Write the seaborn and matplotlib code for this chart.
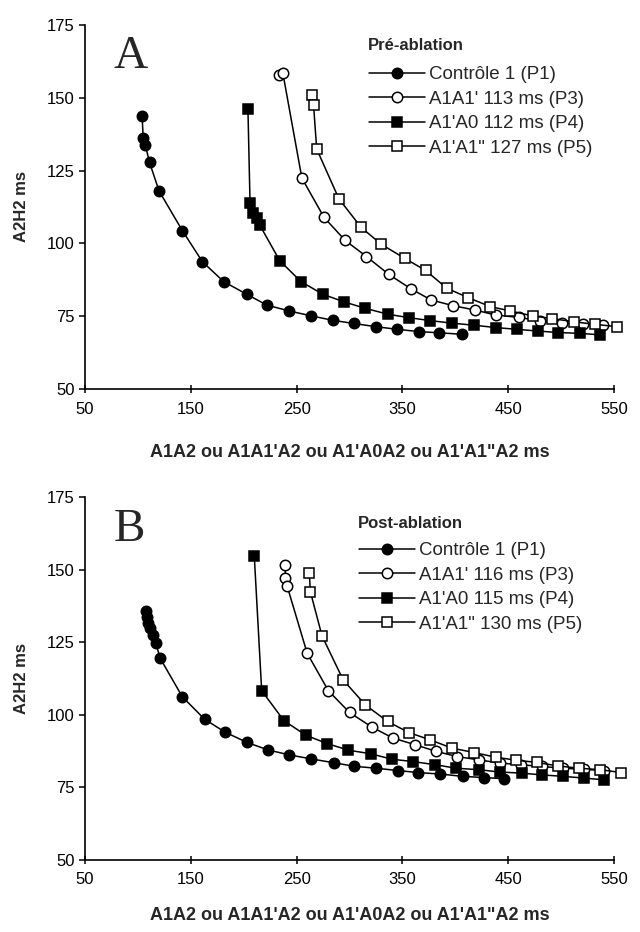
import matplotlib
matplotlib.use("Agg")
import matplotlib.pyplot as plt
import seaborn as sns

# Panel A (pre-ablation)
a_p1_x = [104, 105, 107, 111, 120, 142, 161, 181, 203, 222, 243, 264, 284, 304, 325, 345, 366, 385, 406]
a_p1_y = [143.6, 136.2, 133.8, 127.8, 118.0, 104.4, 93.7, 86.9, 82.5, 78.8, 76.8, 75.1, 73.6, 72.5, 71.4, 70.5, 69.7, 69.3, 68.8]
a_p3_x = [233, 237, 255, 276, 296, 316, 337, 358, 377, 398, 419, 438, 460, 480, 501, 521, 540]
a_p3_y = [157.9, 158.5, 122.4, 108.9, 101.0, 95.5, 89.4, 84.4, 80.6, 78.6, 77.1, 75.4, 74.6, 73.4, 72.6, 72.2, 72.0]
a_p4_x = [204, 206, 209, 213, 215, 234, 254, 275, 295, 315, 336, 356, 376, 397, 418, 438, 458, 478, 497, 518, 537]
a_p4_y = [146.1, 113.8, 110.4, 108.7, 106.4, 94.1, 86.9, 82.5, 79.9, 77.7, 75.7, 74.5, 73.5, 72.6, 71.9, 71.1, 70.5, 69.9, 69.4, 69.1, 68.6]
a_p5_x = [265, 266, 269, 290, 311, 330, 352, 372, 392, 412, 433, 452, 473, 491, 512, 532, 553]
a_p5_y = [151.0, 147.6, 132.4, 115.3, 105.5, 99.7, 94.9, 90.7, 84.6, 81.4, 78.3, 76.8, 75.1, 74.2, 73.1, 72.2, 71.4]
a_labels = ["Contrôle 1 (P1)", "A1A1' 113 ms (P3)", "A1'A0 112 ms (P4)", "A1'A1\" 127 ms (P5)"]

# Panel B (post-ablation)
b_p1_x = [108, 108.5, 110, 111, 114, 117, 121, 142, 163, 182, 203, 223, 243, 264, 285, 304, 325, 346, 365, 386, 407, 427, 446]
b_p1_y = [135.8, 133.8, 131.5, 129.8, 127.5, 124.6, 119.5, 106.2, 98.5, 94.1, 90.5, 87.9, 86.2, 84.8, 83.5, 82.3, 81.6, 80.8, 80.1, 79.6, 78.8, 78.4, 78.0]
b_p3_x = [239, 239.5, 241, 260, 280, 300, 321, 341, 362, 382, 402, 422, 442, 462, 482, 502, 522, 541]
b_p3_y = [151.6, 147.0, 144.4, 121.2, 108.3, 100.8, 95.8, 92.0, 89.7, 87.4, 85.6, 84.5, 83.4, 82.8, 82.2, 81.6, 81.2, 80.8]
b_p4_x = [210, 217, 238, 259, 279, 299, 320, 340, 360, 381, 401, 422, 442, 463, 482, 502, 522, 541]
b_p4_y = [154.7, 108.3, 98.0, 92.9, 90.1, 87.8, 86.6, 84.7, 83.9, 82.8, 81.6, 81.1, 80.3, 79.9, 79.3, 78.8, 78.2, 77.6]
b_p5_x = [262, 263, 274, 294, 315, 336, 356, 376, 397, 418, 438, 457, 477, 497, 517, 537, 557]
b_p5_y = [148.9, 142.4, 127.2, 112.0, 103.4, 97.7, 93.9, 91.4, 88.5, 87.0, 85.4, 84.4, 83.6, 82.4, 81.6, 81.1, 80.1]
b_labels = ["Contrôle 1 (P1)", "A1A1' 116 ms (P3)", "A1'A0 115 ms (P4)", "A1'A1\" 130 ms (P5)"]

x_ticks = [50, 150, 250, 350, 450, 550]
y_ticks = [50, 75, 100, 125, 150, 175]
x_label = "A1A2 ou A1A1'A2 ou A1'A0A2 ou A1'A1\"A2 ms"
y_label = "A2H2 ms"

sns.set_style("ticks")
plt.rcParams['font.family'] = ['Liberation Sans', 'DejaVu Sans']

W, H = 640, 932
fig = plt.figure(figsize=(W / 100, H / 100), dpi=100)


def rect(l, t, r, b):
    return [l / W, 1 - b / H, (r - l) / W, (b - t) / H]


# marker, face colour per series
styles = [('o', 'black'), ('o', 'white'), ('s', 'black'), ('s', 'white')]


def panel(ax, series, labels, title, title_xy, letter, letter_xy, leg_xy, xpad):
    for (x, y), lab, (m, fc) in zip(series, labels, styles):
        sns.lineplot(x=x, y=y, ax=ax, color='black', marker=m,
                     markerfacecolor=fc, markeredgecolor='black',
                     markersize=7.5, markeredgewidth=1.1, linewidth=1.1,
                     estimator=None, sort=False, label=lab, clip_on=False)
    ax.set_xlim(50, 550)
    ax.set_ylim(50, 175)
    ax.set_xticks(x_ticks)
    ax.set_yticks(y_ticks)
    ax.tick_params(axis='both', labelsize=12, width=1.1, colors='black')
    ax.tick_params(axis='x', direction='inout', length=6, pad=6)
    ax.tick_params(axis='y', direction='out', length=4)
    for s in ['left', 'bottom']:
        ax.spines[s].set_linewidth(1.2)
        ax.spines[s].set_color('black')
    sns.despine(ax=ax)
    ax.set_xlabel(x_label, fontsize=13, fontweight='bold', labelpad=xpad)
    ax.set_ylabel(y_label, fontsize=12, fontweight='bold')
    ax.yaxis.set_label_coords(-0.105, 0.5)
    ax.legend(loc='upper left', bbox_to_anchor=(leg_xy[0] / W, 1 - leg_xy[1] / H),
              bbox_transform=fig.transFigure, frameon=False, fontsize=13.5,
              handlelength=3.0, handletextpad=0.2, labelspacing=0.4,
              borderpad=0, borderaxespad=0, numpoints=1)
    fig.text(title_xy[0] / W, 1 - title_xy[1] / H, title, fontsize=12,
             fontweight='bold', va='center', ha='left')
    fig.text(letter_xy[0] / W, 1 - letter_xy[1] / H, letter, family='Liberation Serif',
             fontsize=34, va='baseline', ha='left')


axA = fig.add_axes(rect(85, 25, 614, 389))
panel(axA, [(a_p1_x, a_p1_y), (a_p3_x, a_p3_y), (a_p4_x, a_p4_y), (a_p5_x, a_p5_y)],
      a_labels, "Pré-ablation", (368, 46), "A", (114, 68), (369, 66), 20)

axB = fig.add_axes(rect(85, 497, 614, 860))
panel(axB, [(b_p1_x, b_p1_y), (b_p3_x, b_p3_y), (b_p4_x, b_p4_y), (b_p5_x, b_p5_y)],
      b_labels, "Post-ablation", (358, 523), "B", (114, 541), (359, 542), 14)

fig.savefig("out.png", dpi=100)
